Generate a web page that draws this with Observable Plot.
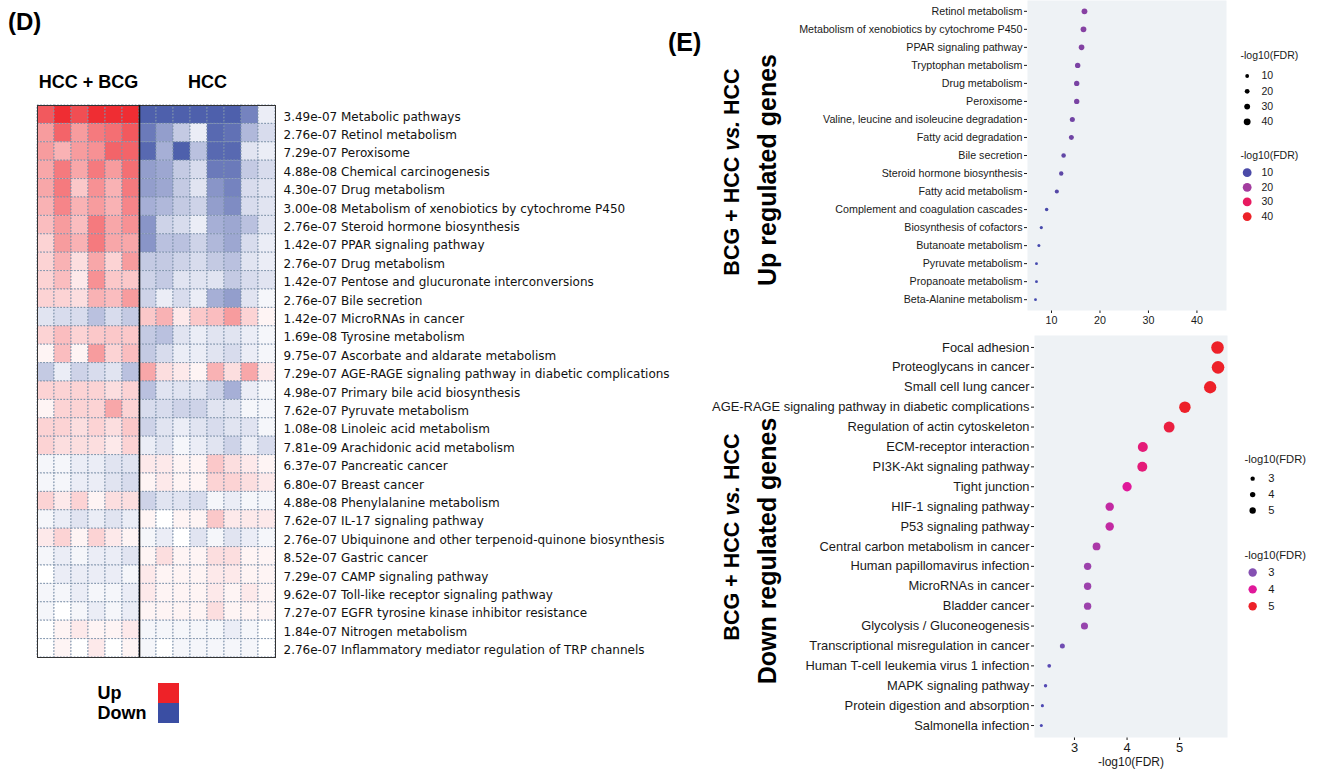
<!DOCTYPE html>
<html><head><meta charset="utf-8">
<script src="https://cdn.jsdelivr.net/npm/d3@7"></script>
<script src="https://cdn.jsdelivr.net/npm/@observablehq/plot@0.6"></script>
<style>
body{margin:0;background:#fff;}
#root{position:relative;width:1326px;height:769px;overflow:hidden;font-family:"Liberation Sans",Arial,sans-serif;color:#000;}
.abs{position:absolute;}
.abs svg{display:block;overflow:visible;}
.panel{position:absolute;font-weight:bold;font-size:24px;line-height:1;}
.rot{position:absolute;transform:translate(-50%,-50%) rotate(-90deg);white-space:nowrap;font-weight:bold;line-height:1;}
</style></head><body><div id="root"></div>
<script>
// ---------------- DATA ----------------
const groupLabels = ["HCC + BCG", "HCC"];
const groupSizes = [6, 8];
const pathways = ["Metabolic pathways","Retinol metabolism","Peroxisome","Chemical carcinogenesis","Drug metabolism","Metabolism of xenobiotics by cytochrome P450","Steroid hormone biosynthesis","PPAR signaling pathway","Drug metabolism","Pentose and glucuronate interconversions","Bile secretion","MicroRNAs in cancer","Tyrosine metabolism","Ascorbate and aldarate metabolism","AGE-RAGE signaling pathway in diabetic complications","Primary bile acid biosynthesis","Pyruvate metabolism","Linoleic acid metabolism","Arachidonic acid metabolism","Pancreatic cancer","Breast cancer","Phenylalanine metabolism","IL-17 signaling pathway","Ubiquinone and other terpenoid-quinone biosynthesis","Gastric cancer","CAMP signaling pathway","Toll-like receptor signaling pathway","EGFR tyrosine kinase inhibitor resistance","Nitrogen metabolism","Inflammatory mediator regulation of TRP channels"];
const fdrLabels = ["3.49e-07","2.76e-07","7.29e-07","4.88e-08","4.30e-07","3.00e-08","2.76e-07","1.42e-07","2.76e-07","1.42e-07","2.76e-07","1.42e-07","1.69e-08","9.75e-07","7.29e-07","4.98e-07","7.62e-07","1.08e-08","7.81e-09","6.37e-07","6.80e-07","4.88e-08","7.62e-07","2.76e-07","8.52e-07","7.29e-07","9.62e-07","7.27e-07","1.84e-07","2.76e-07"];
const heatValues = [
 [0.75,0.95,0.8,0.95,0.95,0.95,-0.9,-0.9,-0.9,-0.9,-0.9,-0.9,-0.7,-0.1],
 [0.45,0.7,0.45,0.6,0.65,0.75,-0.75,-0.55,-0.3,-0.1,-0.85,-0.8,-0.4,-0.2],
 [0.45,0.35,0.45,0.5,0.7,0.7,-0.85,-0.45,-0.9,-0.35,-0.85,-0.85,-0.15,-0.1],
 [0.4,0.6,0.4,0.6,0.45,0.65,-0.55,-0.5,-0.3,-0.2,-0.75,-0.75,-0.3,-0.2],
 [0.4,0.6,0.25,0.5,0.35,0.6,-0.55,-0.5,-0.3,-0.15,-0.6,-0.7,-0.2,-0.15],
 [0.35,0.55,0.35,0.45,0.35,0.55,-0.45,-0.4,-0.3,-0.25,-0.55,-0.65,-0.2,-0.15],
 [0.3,0.45,0.3,0.6,0.4,0.5,-0.6,-0.25,-0.2,-0.1,-0.45,-0.5,-0.35,-0.15],
 [0.2,0.45,0.35,0.6,0.4,0.4,-0.6,-0.35,-0.35,-0.25,-0.4,-0.5,-0.2,-0.1],
 [0.2,0.35,0.15,0.4,0.2,0.45,-0.3,-0.3,-0.25,-0.2,-0.3,-0.35,-0.15,-0.1],
 [0.2,0.3,0.1,0.5,0.25,0.25,-0.25,-0.3,-0.15,-0.15,-0.15,-0.3,-0.2,-0.15],
 [0.2,0.2,0.15,0.35,0.3,0.45,-0.25,-0.1,-0.2,-0.1,-0.45,-0.55,-0.15,-0.05],
 [-0.15,-0.2,-0.2,-0.35,-0.2,-0.3,0.25,0.35,0.1,0.25,0.3,0.45,0.2,0.05],
 [0.2,0.3,0.2,0.25,0.25,0.25,-0.3,-0.35,-0.15,-0.1,-0.15,-0.15,-0.1,-0.05],
 [0.05,0.3,0.05,0.45,0.2,0.3,-0.3,-0.2,-0.1,-0.1,-0.15,-0.2,-0.1,-0.05],
 [-0.3,-0.1,-0.25,-0.2,-0.15,-0.35,0.4,0.15,0.1,0.05,0.35,0.15,0.4,0.1],
 [0.2,0.2,0.2,0.2,0.15,0.2,-0.35,-0.15,-0.15,-0.15,-0.25,-0.45,-0.1,-0.05],
 [0.05,0.2,0.2,0.2,0.4,0.2,-0.2,-0.2,-0.25,-0.25,-0.15,-0.15,-0.05,-0.05],
 [0.2,0.2,0.15,0.2,0.15,0.25,-0.25,-0.15,-0.1,-0.15,-0.2,-0.15,-0.15,-0.05],
 [0.2,0.15,0.15,0.15,0.1,0.2,-0.1,-0.15,-0.05,-0.1,-0.15,-0.25,-0.1,-0.2],
 [-0.05,-0.05,-0.1,-0.1,-0.15,-0.15,0.1,0.1,0.05,0.05,0.25,0.15,0.1,0.05],
 [-0.05,-0.05,-0.1,-0.1,-0.15,-0.2,0.05,0.1,0.05,0.05,0.2,0.2,0.15,0.1],
 [0.2,0.1,0.2,0.05,0.15,0.15,-0.25,-0.15,-0.15,-0.2,-0.05,-0.1,-0.05,-0.05],
 [-0.05,-0.1,-0.15,-0.1,-0.15,-0.1,0.05,0.0,0.05,0.05,0.25,0.1,0.1,0.1],
 [0.1,0.2,0.05,0.2,0.1,0.05,-0.05,-0.1,0.0,-0.15,-0.05,-0.15,-0.1,-0.05],
 [-0.05,-0.1,-0.05,-0.1,-0.1,-0.15,0.05,0.15,0.05,0.05,0.15,0.15,0.05,0.05],
 [0.0,-0.1,-0.1,-0.1,-0.1,-0.05,0.1,0.05,0.05,0.05,0.1,0.1,0.05,0.05],
 [-0.05,-0.05,-0.1,-0.05,-0.05,-0.1,0.1,0.05,0.05,0.05,0.1,0.05,0.1,0.05],
 [-0.05,0.0,-0.05,-0.1,-0.05,-0.1,0.05,0.05,0.05,0.05,0.15,0.05,0.05,0.05],
 [0.0,0.05,0.1,0.05,0.05,0.1,-0.05,-0.05,-0.05,-0.05,-0.05,-0.1,-0.05,0.0],
 [0.0,0.05,0.0,0.1,0.0,0.05,-0.05,0.0,-0.05,-0.05,-0.05,-0.05,-0.05,0.0]
];
const keyLabels = ["Up", "Down"];
const keyValues = [1, -1];

const upTerms = ["Retinol metabolism","Metabolism of xenobiotics by cytochrome P450","PPAR signaling pathway","Tryptophan metabolism","Drug metabolism","Peroxisome","Valine, leucine and isoleucine degradation","Fatty acid degradation","Bile secretion","Steroid hormone biosynthesis","Fatty acid metabolism","Complement and coagulation cascades","Biosynthesis of cofactors","Butanoate metabolism","Pyruvate metabolism","Propanoate metabolism","Beta-Alanine metabolism"];
const upScores = [16.8,16.6,16.2,15.4,15.2,15.2,14.3,14.1,12.5,12.0,11.1,9.0,7.9,7.4,6.9,6.9,6.7];
const upTicks = [10,20,30,40];
const upLegendValues = [10,20,30,40];

const downTerms = ["Focal adhesion","Proteoglycans in cancer","Small cell lung cancer","AGE-RAGE signaling pathway in diabetic complications","Regulation of actin cytoskeleton","ECM-receptor interaction","PI3K-Akt signaling pathway","Tight junction","HIF-1 signaling pathway","P53 signaling pathway","Central carbon metabolism in cancer","Human papillomavirus infection","MicroRNAs in cancer","Bladder cancer","Glycolysis / Gluconeogenesis","Transcriptional misregulation in cancer","Human T-cell leukemia virus 1 infection","MAPK signaling pathway","Protein digestion and absorption","Salmonella infection"];
const downScores = [5.72,5.73,5.58,5.10,4.80,4.30,4.29,4.00,3.67,3.67,3.42,3.25,3.25,3.25,3.19,2.77,2.52,2.45,2.39,2.37];
const downTicks = [3,4,5];
const downLegendValues = [3,4,5];
const axisTitle = "-log10(FDR)";

// ---------------- LAYOUT HELPERS ----------------
const root = document.getElementById("root");
function place(node, left, top) {
  const d = document.createElement("div");
  d.className = "abs"; d.style.left = left + "px"; d.style.top = top + "px";
  d.appendChild(node); root.appendChild(d); return d;
}
function html(cls, text, left, top, extra) {
  const d = document.createElement("div");
  d.className = cls; d.innerHTML = text;
  d.style.left = left + "px"; d.style.top = top + "px";
  Object.assign(d.style, extra || {});
  root.appendChild(d);
}

// ---------------- (D) HEATMAP ----------------
const nCols = d3.sum(groupSizes);
const groupStarts = groupSizes.map((s, i) => d3.sum(groupSizes.slice(0, i)));
const cells = heatValues.flatMap((row, r) => row.map((v, c) => ({row: r, col: c, v})));
const heatColor = {type: "linear", domain: [-1, 0, 1], range: ["#3a4ea3", "#ffffff", "#ee2228"], interpolate: "rgb"};

const heat = Plot.plot({
  width: 700, height: 606,
  marginLeft: 37, marginRight: 425, marginTop: 45, marginBottom: 9,
  x: {domain: [0, nCols], axis: null},
  y: {domain: [0, pathways.length], reverse: true, axis: null},
  color: heatColor,
  style: {fontFamily: "'DejaVu Sans', Verdana, sans-serif", fontSize: "12px", color: "#111", background: "transparent", overflow: "visible"},
  marks: [
    Plot.rect(cells, {x1: "col", x2: d => d.col + 1, y1: "row", y2: d => d.row + 1, fill: "v",
      stroke: "#7f93ab", strokeDasharray: "1.6,1.6", strokeWidth: 1}),
    Plot.frame({stroke: "#333", strokeWidth: 1}),
    Plot.ruleX([groupSizes[0]], {stroke: "#111", strokeWidth: 1.6}),
    Plot.text(pathways, {x: nCols, y: (d, i) => i + 0.5, text: (d, i) => fdrLabels[i] + " " + d,
      textAnchor: "start", dx: 8, dy: 2, fill: "#111"}),
    Plot.text(groupLabels, {x: (d, i) => groupStarts[i] + groupSizes[i] / 2, frameAnchor: "top", lineAnchor: "middle",
      dy: -23, fontWeight: "bold", fontSize: 18, fontFamily: "'Liberation Sans', Arial, sans-serif", fill: "#000"})
  ]
});
place(heat, 0, 60);

// Up / Down key
const key = Plot.plot({
  width: 100, height: 56, marginLeft: 68, marginRight: 11, marginTop: 6, marginBottom: 9,
  x: {type: "band", domain: ["k"], axis: null, padding: 0},
  y: {type: "band", domain: keyLabels, axis: null, padding: 0},
  color: heatColor,
  style: {fontFamily: "'Liberation Sans', Arial, sans-serif", background: "transparent", overflow: "visible"},
  marks: [
    Plot.cell(keyLabels, {x: () => "k", y: d => d, fill: (d, i) => keyValues[i], inset: 0}),
    Plot.text(keyLabels, {y: d => d, frameAnchor: "left", dx: -61, textAnchor: "start", fontWeight: "bold", fontSize: 18, fill: "#000"})
  ]
});
place(key, 90, 676);

html("panel", "(D)", 8, 10, {fontSize: "24px"});

// ---------------- (E) DOT PLOTS ----------------
const upColor = {type: "linear", domain: [5, 10, 20, 30, 40], range: ["#3f48b2", "#4b4aa8", "#a33c9f", "#e81a60", "#ec2228"], clamp: true};
const downColor = {type: "linear", domain: [2.3, 3, 4, 5], range: ["#4547b3", "#8550b2", "#e0189a", "#ed2129"], clamp: true};
const panelFill = "#eef2f5";

const upPlot = Plot.plot({
  width: 450, height: 335, marginLeft: 247, marginRight: 4, marginTop: 0, marginBottom: 25,
  x: {domain: [5.05, 46.1], ticks: upTicks, tickFormat: "d", tickSize: 3, tickPadding: 3, label: null},
  y: {type: "point", domain: upTerms, padding: 0.6, round: false, tickSize: 3, tickPadding: 2, label: null},
  r: {type: "linear", domain: [6.7, 16.8], range: [1.4, 2.9]},
  color: upColor,
  style: {fontFamily: "'Liberation Sans', Arial, sans-serif", fontSize: "10.7px", color: "#1a1a1a", background: "transparent", overflow: "visible"},
  marks: [
    Plot.frame({fill: panelFill, stroke: "none"}),
    Plot.dot(upTerms, {x: (d, i) => upScores[i], y: d => d, r: (d, i) => upScores[i], fill: (d, i) => upScores[i]})
  ]
});
place(upPlot, 780, 0);

const downPlot = Plot.plot({
  width: 530, height: 439, marginLeft: 334, marginRight: 3, marginTop: 5, marginBottom: 32,
  x: {domain: [2.24, 5.91], ticks: downTicks, tickFormat: "d", tickSize: 3, tickPadding: 2, label: null},
  y: {type: "point", domain: downTerms, padding: 0.6, round: false, tickSize: 3, tickPadding: 2, label: null},
  r: {type: "linear", domain: [2.37, 3.25, 4.3, 5.72], range: [1.5, 3.7, 5.0, 6.3]},
  color: downColor,
  style: {fontFamily: "'Liberation Sans', Arial, sans-serif", fontSize: "12.9px", color: "#1a1a1a", background: "transparent", overflow: "visible"},
  marks: [
    Plot.frame({fill: panelFill, stroke: "none"}),
    Plot.dot(downTerms, {x: (d, i) => downScores[i], y: d => d, r: (d, i) => downScores[i], fill: (d, i) => downScores[i]}),
    Plot.text([axisTitle], {frameAnchor: "bottom", lineAnchor: "middle", dy: 25, fontSize: 12, fill: "#1a1a1a"})
  ]
});
place(downPlot, 700, 330);

// legends
function legend(values, opts) {
  return Plot.plot({
    width: 90, height: opts.marginTop + values.length * opts.step + 4,
    marginLeft: 0, marginRight: 0, marginTop: opts.marginTop, marginBottom: 4,
    x: {axis: null, domain: [0, 1]},
    y: {type: "point", domain: values, padding: 0.5, round: false, axis: null},
    r: opts.r, color: opts.color,
    style: {fontFamily: "'Liberation Sans', Arial, sans-serif", fontSize: opts.fontSize + "px", color: "#1a1a1a", background: "transparent", overflow: "visible"},
    marks: [
      Plot.text([axisTitle], {frameAnchor: "top-left", textAnchor: "start", lineAnchor: "middle", dy: opts.titleDy, fill: "#1a1a1a"}),
      Plot.dot(values, {y: d => d, frameAnchor: "left", dx: opts.dotDx,
        r: opts.useR ? (d => d) : opts.fixedR, fill: opts.useColor ? (d => d) : "#000"}),
      Plot.text(values, {y: d => d, text: d => String(d), frameAnchor: "left", textAnchor: "start", dx: opts.labelDx, fill: "#1a1a1a"})
    ]
  });
}
place(legend(upLegendValues, {marginTop: 25, step: 16, titleDy: -13, fontSize: 11, dotDx: 7, labelDx: 22,
  useR: true, r: {type: "linear", domain: [10, 40], range: [2, 3.6]}}), 1240, 44);
place(legend(upLegendValues, {marginTop: 25, step: 15.3, titleDy: -10, fontSize: 11, dotDx: 7, labelDx: 22,
  useColor: true, fixedR: 4.6, color: upColor}), 1240, 141);
place(legend(downLegendValues, {marginTop: 31, step: 17.5, titleDy: -12, fontSize: 12.3, dotDx: 9, labelDx: 26,
  useR: true, r: {type: "linear", domain: [3, 5], range: [2.4, 3.5]}}), 1244, 442);
place(legend(downLegendValues, {marginTop: 38, step: 18.5, titleDy: -10, fontSize: 12.3, dotDx: 9, labelDx: 26,
  useColor: true, fixedR: 4.6, color: downColor}), 1244, 529);

html("panel", "(E)", 668, 30, {fontSize: "25px"});
html("rot", "BCG + HCC <i>vs.</i> HCC", 733, 172, {fontSize: "21.5px"});
html("rot", "Up regulated genes", 767, 170, {fontSize: "25px"});
html("rot", "BCG + HCC <i>vs.</i> HCC", 733, 537, {fontSize: "21.5px"});
html("rot", "Down regulated genes", 767, 551, {fontSize: "25px"});
</script></body></html>
